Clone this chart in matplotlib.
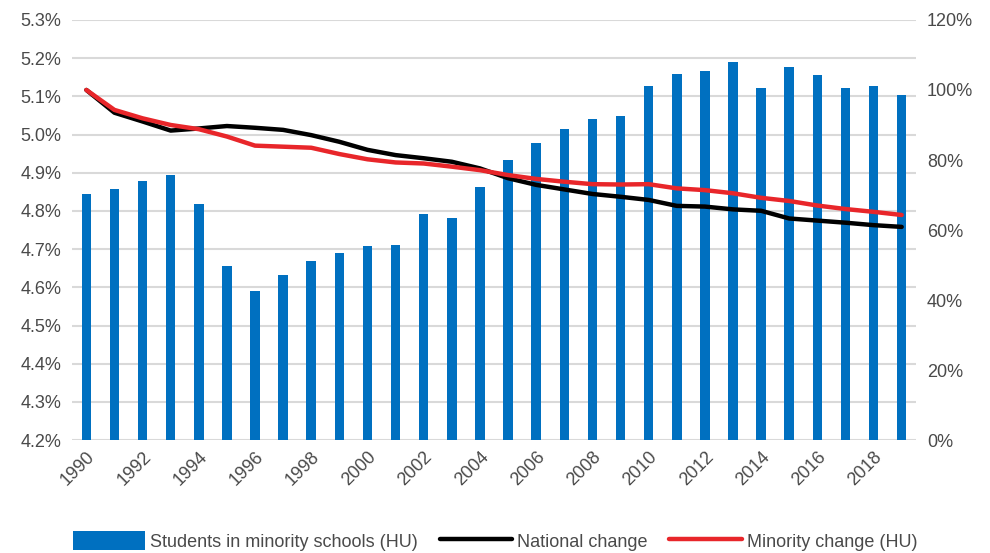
import matplotlib
matplotlib.use("Agg")
import matplotlib.pyplot as plt
from matplotlib.ticker import FuncFormatter
import numpy as np

years = list(range(1990, 2020))
# share of students in minority schools (HU), %
minority_share = [4.844, 4.857, 4.878, 4.893, 4.817, 4.657, 4.590, 4.633, 4.670, 4.690,
                  4.708, 4.712, 4.793, 4.781, 4.862, 4.934, 4.977, 5.014, 5.041, 5.049,
                  5.128, 5.159, 5.165, 5.189, 5.122, 5.176, 5.155, 5.122, 5.128, 5.104]
# index, 1990 = 100%
national_change = [100, 93.5, 91.0, 88.4, 89.0, 89.7, 89.2, 88.6, 87.1, 85.2,
                   82.9, 81.4, 80.5, 79.5, 77.6, 74.8, 72.9, 71.6, 70.3, 69.5,
                   68.6, 66.9, 66.7, 65.9, 65.5, 63.3, 62.7, 62.1, 61.4, 60.9]
minority_change = [100, 94.3, 91.9, 90.0, 88.8, 86.7, 84.1, 83.8, 83.5, 81.7,
                   80.2, 79.3, 79.0, 78.1, 77.1, 75.7, 74.6, 73.8, 73.1, 73.0,
                   73.1, 71.9, 71.4, 70.5, 69.2, 68.3, 67.0, 66.0, 65.2, 64.3]

plt.rcParams['font.family'] = ['Liberation Sans', 'DejaVu Sans']
txt = '#4a4a4a'

fig = plt.figure(figsize=(9.9, 5.53), dpi=100)
fig.patch.set_facecolor('white')
ax = fig.add_axes([0.073, 0.204, 0.852, 0.76])
ax.set_facecolor('white')
x = np.arange(len(years))

b = ax.bar(x, minority_share, width=0.34, color='#0070C0', zorder=2,
           label='Students in minority schools (HU)')
ax.set_ylim(4.2, 5.3)
ax.set_yticks(np.arange(4.2, 5.31, 0.1))
ax.yaxis.set_major_formatter(FuncFormatter(lambda v, p: f'{v:.1f}%'))
ax.set_xlim(-0.5, len(years) - 0.5)
ax.set_xticks(x[::2])
ax.set_xticklabels([str(y) for y in years[::2]], rotation=45, ha='right',
                   rotation_mode='anchor')
ax.grid(axis='y', color='#d9d9d9', linewidth=1.5, zorder=0)
ax.set_axisbelow(True)

ax2 = ax.twinx()
l1, = ax2.plot(x, national_change, color='black', linewidth=3.2,
               solid_capstyle='round', label='National change')
l2, = ax2.plot(x, minority_change, color='#E8262A', linewidth=3.2,
               solid_capstyle='round', label='Minority change (HU)')
ax2.set_ylim(0, 120)
ax2.set_yticks(range(0, 121, 20))
ax2.yaxis.set_major_formatter(FuncFormatter(lambda v, p: f'{v:.0f}%'))

for a in (ax, ax2):
    for s in a.spines.values():
        s.set_visible(False)
    a.tick_params(length=0, labelsize=13, colors=txt, pad=8)

ax.tick_params(axis='x', pad=6)

fig.legend(handles=[b, l1, l2], loc='lower center', bbox_to_anchor=(0.5, -0.025),
           ncol=3, frameon=False, fontsize=13, labelcolor=txt,
           handlelength=4, handleheight=1.3, columnspacing=1.2, handletextpad=0.3)

fig.savefig('out.png', dpi=100)
